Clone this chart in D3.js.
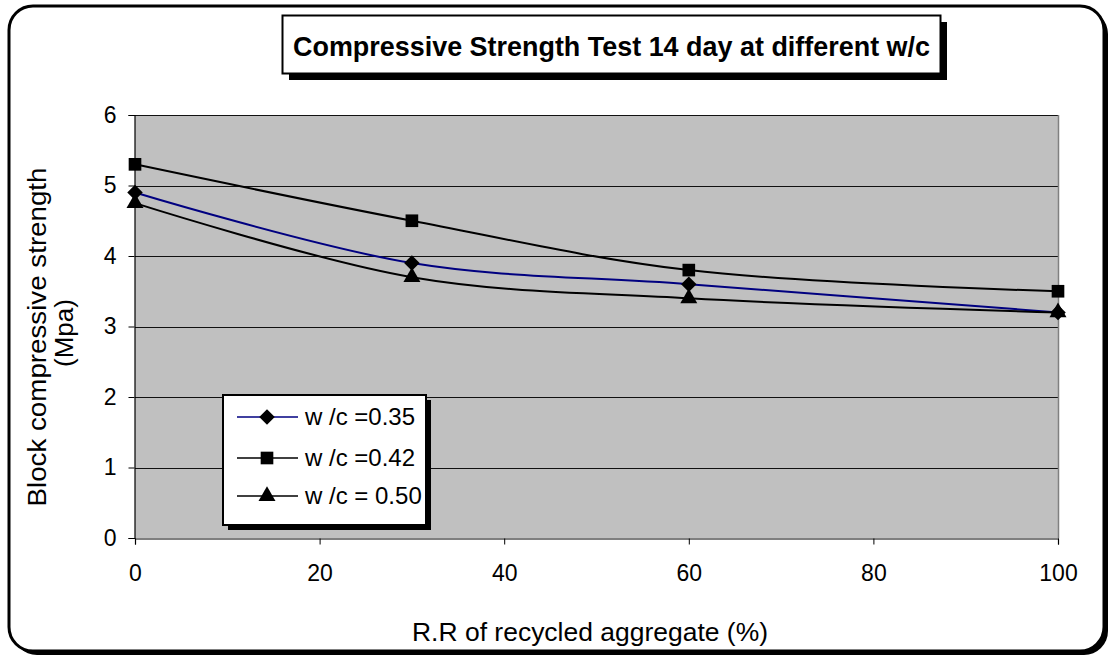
<!DOCTYPE html>
<html>
<head>
<meta charset="utf-8">
<script src="https://cdn.jsdelivr.net/npm/d3@7"></script>
<style>
  body { margin: 0; background: #fff; }
  svg text { font-family: "Liberation Sans", Arial, sans-serif; }
</style>
</head>
<body>
<div id="chart"></div>
<script>
// data
var replacement = [0, 30, 60, 100];
var wc035 = [4.9, 3.9, 3.6, 3.2];
var wc042 = [5.3, 4.5, 3.8, 3.5];
var wc050 = [4.75, 3.7, 3.4, 3.2];
var seriesNames = ["w /c =0.35", "w /c =0.42", "w /c = 0.50"];
var xTicks = [0, 20, 40, 60, 80, 100];
var yTicks = [0, 1, 2, 3, 4, 5, 6];

var width = 1112, height = 660;
var plot = {left: 135, right: 1058, top: 115, bottom: 538};

var svg = d3.select("#chart").append("svg")
  .attr("width", width)
  .attr("height", height);

// outer rounded frame with shadow
svg.append("rect")
  .attr("x", 13).attr("y", 10).attr("width", 1095).attr("height", 645)
  .attr("rx", 24).attr("fill", "#000");
svg.append("rect")
  .attr("x", 9).attr("y", 6).attr("width", 1095).attr("height", 645)
  .attr("rx", 24).attr("fill", "#fff")
  .attr("stroke", "#000").attr("stroke-width", 3);

var x = d3.scaleLinear().domain([0, 100]).range([plot.left, plot.right]);
var y = d3.scaleLinear().domain([0, 6]).range([plot.bottom, plot.top]);

// plot area
svg.append("rect")
  .attr("x", plot.left).attr("y", plot.top)
  .attr("width", plot.right - plot.left).attr("height", plot.bottom - plot.top)
  .attr("fill", "#c0c0c0");

// gridlines
svg.append("g")
  .selectAll("line")
  .data(yTicks.filter(function (d) { return d > 0; }))
  .enter().append("line")
  .attr("x1", plot.left).attr("x2", plot.right)
  .attr("y1", function (d) { return Math.round(y(d)) + 0.5; })
  .attr("y2", function (d) { return Math.round(y(d)) + 0.5; })
  .attr("stroke", "#111").attr("stroke-width", 1)
  .attr("shape-rendering", "crispEdges");

// right edge of the plot area
svg.append("line")
  .attr("x1", plot.right + 0.5).attr("x2", plot.right + 0.5)
  .attr("y1", plot.top).attr("y2", plot.bottom)
  .attr("stroke", "#808080").attr("stroke-width", 1.5);

// axes
var xAxis = svg.append("g")
  .attr("transform", "translate(0," + (Math.round(plot.bottom) + 0.5) + ")")
  .call(d3.axisBottom(x).tickValues(xTicks).tickFormat(d3.format("d"))
    .tickSize(6).tickPadding(20));
var yAxis = svg.append("g")
  .attr("transform", "translate(" + (plot.left - 0.5) + ",0)")
  .call(d3.axisLeft(y).tickValues(yTicks).tickFormat(d3.format("d"))
    .tickSize(6).tickPadding(12));

[xAxis, yAxis].forEach(function (a) {
  a.select(".domain").attr("stroke", "#000").attr("stroke-width", 1.2);
  a.selectAll(".tick line").attr("stroke", "#000");
  a.selectAll(".tick text")
    .attr("fill", "#000")
    .attr("font-family", null)
    .style("font-size", "23px");
});

// series (diamond = rotated square)
var series = [
  {name: seriesNames[0], values: wc035, color: "#000080", marker: d3.symbolSquare, size: 120, rot: 45},
  {name: seriesNames[1], values: wc042, color: "#000", marker: d3.symbolSquare, size: 160, rot: 0},
  {name: seriesNames[2], values: wc050, color: "#000", marker: d3.symbolTriangle, size: 125, rot: 0}
];

var line = d3.line()
  .x(function (d) { return x(d.x); })
  .y(function (d) { return y(d.y); })
  .curve(d3.curveCatmullRom.alpha(0.5));

series.forEach(function (s) {
  var pts = replacement.map(function (r, i) { return {x: r, y: s.values[i]}; });
  svg.append("path")
    .datum(pts)
    .attr("d", line)
    .attr("fill", "none")
    .attr("stroke", s.color)
    .attr("stroke-width", 2);
});

series.forEach(function (s) {
  svg.append("g")
    .selectAll("path")
    .data(replacement.map(function (r, i) { return {x: r, y: s.values[i]}; }))
    .enter().append("path")
    .attr("d", d3.symbol().type(s.marker).size(s.size))
    .attr("transform", function (d) {
      return "translate(" + x(d.x) + "," + y(d.y) + ") rotate(" + s.rot + ")";
    })
    .attr("fill", "#000");
});

// title box
svg.append("rect")
  .attr("x", 289).attr("y", 22).attr("width", 658).attr("height", 58)
  .attr("fill", "#000");
svg.append("rect")
  .attr("x", 282.5).attr("y", 15.5).attr("width", 658).attr("height", 58)
  .attr("fill", "#fff").attr("stroke", "#000").attr("stroke-width", 2);
svg.append("text")
  .attr("x", 293).attr("y", 56)
  .attr("textLength", 637).attr("lengthAdjust", "spacingAndGlyphs")
  .style("font-size", "27px").style("font-weight", "bold")
  .text("Compressive Strength Test 14 day at different  w/c");

// axis titles
svg.append("text")
  .attr("x", 412).attr("y", 641)
  .attr("textLength", 356).attr("lengthAdjust", "spacingAndGlyphs")
  .style("font-size", "26px")
  .text("R.R of recycled aggregate (%)");

var yTitle = svg.append("text")
  .attr("transform", "translate(46,337) rotate(-90)")
  .attr("text-anchor", "middle")
  .style("font-size", "26px");
yTitle.append("tspan").attr("x", 0).attr("y", 0)
  .attr("textLength", 339).attr("lengthAdjust", "spacingAndGlyphs")
  .text("Block compressive strength");
yTitle.append("tspan").attr("x", 4).attr("y", 27).text("(Mpa)");

// legend
var lg = {x: 223, y: 395, w: 203, h: 130};
svg.append("rect")
  .attr("x", lg.x + 5).attr("y", lg.y + 5).attr("width", lg.w).attr("height", lg.h)
  .attr("fill", "#000");
svg.append("rect")
  .attr("x", lg.x).attr("y", lg.y).attr("width", lg.w).attr("height", lg.h)
  .attr("fill", "#fff").attr("stroke", "#000").attr("stroke-width", 2);

var rowY = [417, 458, 496];
series.forEach(function (s, i) {
  var g = svg.append("g").attr("transform", "translate(0," + rowY[i] + ")");
  g.append("line")
    .attr("x1", 237).attr("x2", 298)
    .attr("stroke", s.color).attr("stroke-width", 1.6);
  g.append("path")
    .attr("d", d3.symbol().type(s.marker).size(s.size))
    .attr("transform", "translate(267,0) rotate(" + s.rot + ")")
    .attr("fill", "#000");
  g.append("text")
    .attr("x", 305).attr("y", 8)
    .style("font-size", "24px")
    .text(s.name);
});
</script>
</body>
</html>
